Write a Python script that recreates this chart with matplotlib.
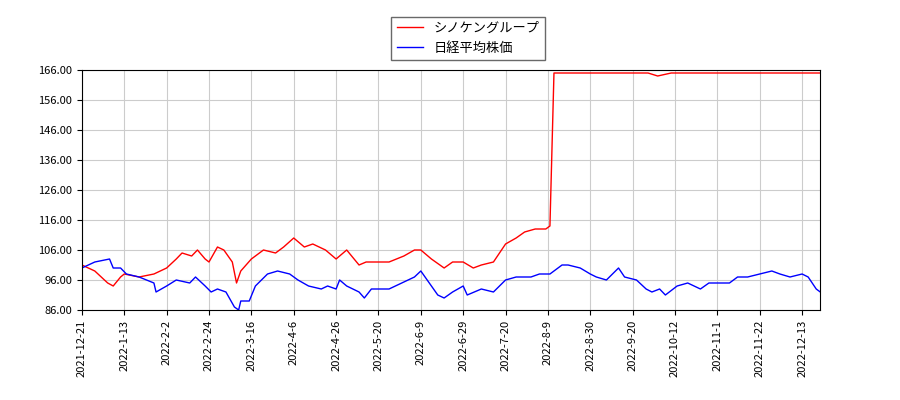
import matplotlib
matplotlib.use("Agg")
import matplotlib.pyplot as plt
import numpy as np
import pandas as pd

plt.rcParams['font.family'] = ['Noto Sans CJK JP', 'DejaVu Sans']

red_dates = ["2021-12-21", "2021-12-28", "2022-01-04", "2022-01-07", "2022-01-11", "2022-01-13",
             "2022-01-20", "2022-01-27", "2022-02-02", "2022-02-07", "2022-02-10", "2022-02-15",
             "2022-02-18", "2022-02-22", "2022-02-24", "2022-02-28", "2022-03-03", "2022-03-07",
             "2022-03-09", "2022-03-11", "2022-03-16", "2022-03-22", "2022-03-28", "2022-04-01",
             "2022-04-06", "2022-04-11", "2022-04-15", "2022-04-21", "2022-04-26", "2022-05-02",
             "2022-05-09", "2022-05-13", "2022-05-20", "2022-05-25", "2022-06-01", "2022-06-06",
             "2022-06-09", "2022-06-14", "2022-06-20", "2022-06-24", "2022-06-29", "2022-07-04",
             "2022-07-08", "2022-07-14", "2022-07-20", "2022-07-25", "2022-07-29", "2022-08-03",
             "2022-08-08", "2022-08-10", "2022-08-12", "2022-08-20", "2022-09-20", "2022-09-28",
             "2022-10-03", "2022-10-10", "2022-10-20", "2022-11-10", "2022-12-01", "2022-12-22"]
red_vals = [101, 99, 95, 94, 97, 98, 97, 98, 100, 103, 105, 104, 106, 103, 102, 107, 106, 102,
            95, 99, 103, 106, 105, 107, 110, 107, 108, 106, 103, 106, 101, 102, 102, 102, 104, 106,
            106, 103, 100, 102, 102, 100, 101, 102, 108, 110, 112, 113, 113, 114, 165, 165, 165, 165,
            164, 165, 165, 165, 165, 165]

blue_dates = ["2021-12-21", "2021-12-28", "2022-01-05", "2022-01-07", "2022-01-11", "2022-01-14",
              "2022-01-20", "2022-01-27", "2022-01-28", "2022-02-02", "2022-02-07", "2022-02-14",
              "2022-02-17", "2022-02-22", "2022-02-25", "2022-02-28", "2022-03-04", "2022-03-08",
              "2022-03-10", "2022-03-11", "2022-03-15", "2022-03-18", "2022-03-24", "2022-03-29",
              "2022-04-04", "2022-04-08", "2022-04-13", "2022-04-19", "2022-04-22", "2022-04-26",
              "2022-04-28", "2022-05-02", "2022-05-09", "2022-05-12", "2022-05-16", "2022-05-20",
              "2022-05-25", "2022-05-31", "2022-06-06", "2022-06-09", "2022-06-13", "2022-06-17",
              "2022-06-20", "2022-06-24", "2022-06-29", "2022-07-01", "2022-07-08", "2022-07-14",
              "2022-07-20", "2022-07-25", "2022-08-01", "2022-08-05", "2022-08-10", "2022-08-16",
              "2022-08-19", "2022-08-25", "2022-08-30", "2022-09-02", "2022-09-07", "2022-09-13",
              "2022-09-16", "2022-09-22", "2022-09-27", "2022-09-30", "2022-10-04", "2022-10-07",
              "2022-10-13", "2022-10-18", "2022-10-24", "2022-10-28", "2022-11-01", "2022-11-07",
              "2022-11-11", "2022-11-16", "2022-11-22", "2022-11-28", "2022-12-02", "2022-12-07",
              "2022-12-13", "2022-12-16", "2022-12-20", "2022-12-22"]
blue_vals = [100, 102, 103, 100, 100, 98, 97, 95, 92, 94, 96, 95, 97, 94, 92, 93, 92, 87, 86, 89,
             89, 94, 98, 99, 98, 96, 94, 93, 94, 93, 96, 94, 92, 90, 93, 93, 93, 95, 97, 99, 95, 91,
             90, 92, 94, 91, 93, 92, 96, 97, 97, 98, 98, 101, 101, 100, 98, 97, 96, 100, 97, 96, 93,
             92, 93, 91, 94, 95, 93, 95, 95, 95, 97, 97, 98, 99, 98, 97, 98, 97, 93, 92]

tick_labels = ["2021-12-21", "2022-1-13", "2022-2-2", "2022-2-24", "2022-3-16", "2022-4-6",
               "2022-4-26", "2022-5-20", "2022-6-9", "2022-6-29", "2022-7-20", "2022-8-9",
               "2022-8-30", "2022-9-20", "2022-10-12", "2022-11-1", "2022-11-22", "2022-12-13"]

# x axis is trading-day based: ticks equally spaced, map dates between them
tick_num = pd.to_datetime(tick_labels).values.astype('int64')
step_ns = tick_num[-1] - tick_num[-2]
anchor_num = np.append(tick_num, tick_num[-1] + step_ns)
anchor_pos = np.arange(len(anchor_num), dtype=float)

def to_pos(dates):
    return np.interp(pd.to_datetime(dates).values.astype('int64'), anchor_num, anchor_pos)

fig = plt.figure(figsize=(9, 4), dpi=100)
ax = fig.add_axes([0.091, 0.225, 0.82, 0.6])
ax.plot(to_pos(red_dates), red_vals, color='red', lw=1, label='シノケングループ')
ax.plot(to_pos(blue_dates), blue_vals, color='blue', lw=1, label='日経平均株価')
ax.set_ylim(86, 166)
ax.set_yticks(range(86, 167, 10))
ax.yaxis.set_major_formatter(matplotlib.ticker.FormatStrFormatter('%.2f'))
ax.set_xlim(0, 17.42)
ax.set_xticks(range(len(tick_labels)))
ax.set_xticklabels(tick_labels, rotation=90)
ax.tick_params(labelsize=8)
ax.grid(True, color='#cccccc')
fig.legend(loc='upper center', bbox_to_anchor=(0.52, 0.975), fontsize=9.5,
           fancybox=False, edgecolor='#444444')
fig.savefig('out.png')
